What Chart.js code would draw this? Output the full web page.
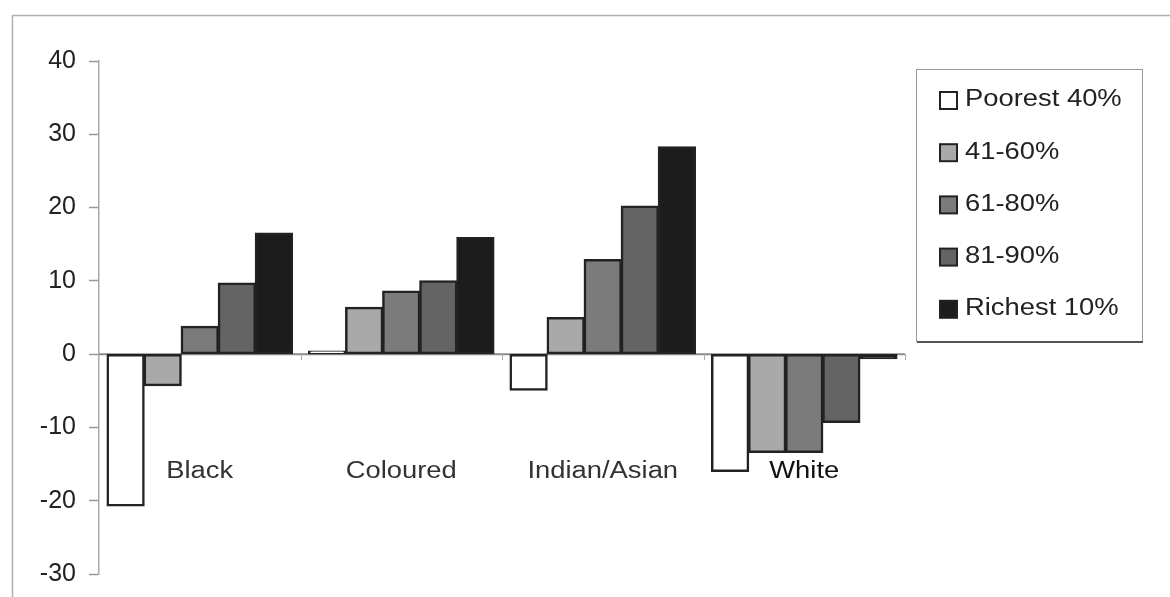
<!DOCTYPE html>
<html>
<head>
<meta charset="utf-8">
<script src="https://cdn.jsdelivr.net/npm/chart.js@4/dist/chart.umd.min.js"></script>
<style>
  html, body { margin: 0; padding: 0; background: #fff; }
  #wrap { width: 1170px; height: 597px; }
</style>
</head>
<body>
<div id="wrap"><canvas id="chart" width="1170" height="597"></canvas></div>
<script>
// groups on the x axis
var groups = ["Black", "Coloured", "Indian/Asian", "White"];
// income bands (one series each)
var bandNames = ["Poorest 40%", "41-60%", "61-80%", "81-90%", "Richest 10%"];
var poorest40 = [-20.7, 0.4, -4.9, -16.0];
var band41to60 = [-4.3, 6.4, 5.0, -13.4];
var band61to80 = [3.8, 8.6, 12.9, -13.4];
var band81to90 = [9.7, 10.0, 20.2, -9.3];
var richest10 = [16.5, 15.9, 28.3, -0.6];
var yTicks = [-30, -20, -10, 0, 10, 20, 30, 40];

var bandValues = [poorest40, band41to60, band61to80, band81to90, richest10];
var fills = ["#ffffff", "#a9a9a9", "#7b7b7b", "#646464", "#1c1c1c"];

var FONT = "'Liberation Sans', Arial, sans-serif";

// draws text a bit wider than the font, like the scanned original
function wideText(ctx, txt, x, y, align, size, color) {
    ctx.save();
    ctx.font = size + "px " + FONT;
    ctx.fillStyle = color;
    ctx.textBaseline = "middle";
    var w = ctx.measureText(txt).width * 1.19;
    var x0 = x;
    if (align === "center") x0 = x - w / 2;
    ctx.translate(x0, y);
    ctx.scale(1.19, 1);
    ctx.textAlign = "left";
    ctx.fillText(txt, 0, 0);
    ctx.restore();
}

var framePlugin = {
    id: "frame",
    beforeDraw: function(chart) {
        var ctx = chart.ctx;
        ctx.save();
        ctx.fillStyle = "#fff";
        ctx.fillRect(0, 0, chart.width, chart.height);
        ctx.strokeStyle = "#b0b0b0";
        ctx.lineWidth = 1.5;
        ctx.beginPath();
        ctx.moveTo(12.5, chart.height);
        ctx.lineTo(12.5, 15.5);
        ctx.lineTo(chart.width, 15.5);
        ctx.stroke();
        ctx.restore();
    },
    beforeDatasetsDraw: function(chart) {
        // zero line with category separators
        var ctx = chart.ctx;
        var x = chart.scales.x, y = chart.scales.y;
        var y0 = y.getPixelForValue(0);
        ctx.save();
        ctx.strokeStyle = "#8a8a8a";
        ctx.lineWidth = 2;
        ctx.beginPath();
        ctx.moveTo(chart.chartArea.left, y0);
        ctx.lineTo(chart.chartArea.right, y0);
        ctx.stroke();
        ctx.lineWidth = 1;
        ctx.strokeStyle = "#aaa";
        for (var i = 0; i < groups.length; i++) {
            var bx = Math.round(x.getPixelForValue(i + 0.5)) + 0.5;
            ctx.beginPath();
            ctx.moveTo(bx, y0);
            ctx.lineTo(bx, y0 + 6);
            ctx.stroke();
        }
        ctx.restore();
    },
    afterDatasetsDraw: function(chart) {
        var x = chart.scales.x, y = chart.scales.y;
        var ly = y.getPixelForValue(-16.1);
        for (var i = 0; i < groups.length; i++) {
            wideText(chart.ctx, groups[i], x.getPixelForValue(i), ly, "center", 23,
                groups[i] === "White" ? "#111" : "#333");
        }
    },
    afterDraw: function(chart) {
        // legend box on the right
        var ctx = chart.ctx;
        ctx.save();
        ctx.fillStyle = "#fff";
        ctx.fillRect(916, 69, 226, 272);
        ctx.strokeStyle = "#999";
        ctx.lineWidth = 1;
        ctx.strokeRect(916.5, 69.5, 226, 272);
        ctx.strokeStyle = "#555";
        ctx.lineWidth = 2;
        ctx.beginPath();
        ctx.moveTo(917, 342);
        ctx.lineTo(1143, 342);
        ctx.stroke();
        chart.data.datasets.forEach(function(ds, i) {
            var cy = 100 + i * 52.2;
            ctx.fillStyle = ds.backgroundColor;
            ctx.fillRect(940, cy - 8, 17, 17);
            ctx.strokeStyle = "#222";
            ctx.lineWidth = 2;
            ctx.strokeRect(940, cy - 8, 17, 17);
            wideText(ctx, ds.label, 965, cy, "left", 23, "#222");
        });
        ctx.restore();
    }
};

var datasets = bandNames.map(function(name, i) {
    return {
        label: name,
        data: bandValues[i],
        backgroundColor: fills[i],
        borderColor: "#222",
        borderWidth: 2.5,
        borderSkipped: false,
        inflateAmount: 0.6,
        categoryPercentage: 0.92,
        barPercentage: 1.0
    };
});

new Chart(document.getElementById("chart"), {
    type: "bar",
    data: { labels: groups, datasets: datasets },
    plugins: [framePlugin],
    options: {
        responsive: false,
        animation: false,
        layout: { padding: { left: 0, right: 265, top: 61, bottom: 23 } },
        plugins: { legend: { display: false }, tooltip: { enabled: false } },
        scales: {
            x: { display: false },
            y: {
                min: yTicks[0],
                max: yTicks[yTicks.length - 1],
                afterFit: function(scale) {
                    scale.width = 99;
                    scale.paddingTop = 0;
                    scale.paddingBottom = 0;
                },
                afterBuildTicks: function(scale) {
                    scale.ticks = yTicks.map(function(v) { return { value: v }; });
                },
                ticks: {
                    color: "#222",
                    padding: 13,
                    font: { family: FONT, size: 25 }
                },
                grid: {
                    drawOnChartArea: false,
                    drawTicks: true,
                    tickLength: 10,
                    tickColor: "#999",
                    tickWidth: 1.5
                },
                border: { display: true, color: "#aaa", width: 1.5 }
            }
        }
    }
});
</script>
</body>
</html>
